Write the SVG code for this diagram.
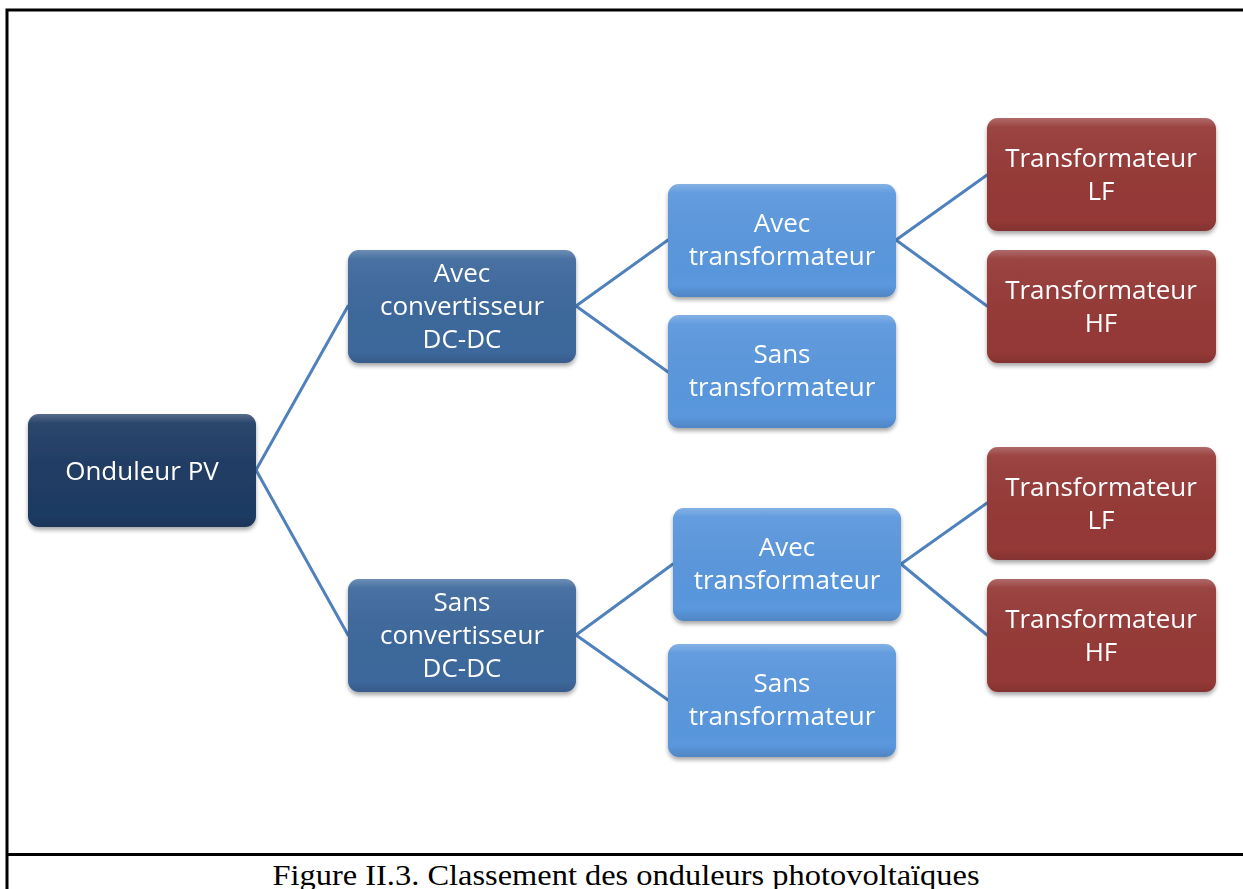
<svg xmlns="http://www.w3.org/2000/svg" width="1243" height="889" viewBox="0 0 1243 889">
<style>
.frame{stroke:#000;stroke-width:3;fill:none}
.conn line{stroke:#4F81BD;stroke-width:3;stroke-linecap:round}
.t{font-family:"Open Sans","Noto Sans",sans-serif;font-size:26px;fill:#fff;text-anchor:middle}
.cap{font-family:"Liberation Serif",serif;font-size:29px;fill:#000;text-anchor:middle}
.n0{fill:#1F3B63}
.n1{fill:#3D689C}
.n2{fill:#5A97DD}
.n3{fill:#953937}
.gl{fill:url(#gloss)}
</style>
<defs>
<linearGradient id="gloss" x1="0" y1="0" x2="0" y2="1">
<stop offset="0" stop-color="#fff" stop-opacity="0.25"/>
<stop offset="0.08" stop-color="#fff" stop-opacity="0.06"/>
<stop offset="0.9" stop-color="#000" stop-opacity="0"/>
<stop offset="1" stop-color="#000" stop-opacity="0.12"/>
</linearGradient>
<filter id="sh" x="-10%" y="-10%" width="120%" height="130%">
<feGaussianBlur in="SourceAlpha" stdDeviation="2"/>
<feOffset dx="0" dy="3" result="b"/>
<feComponentTransfer><feFuncA type="linear" slope="0.35"/></feComponentTransfer>
<feMerge><feMergeNode/><feMergeNode in="SourceGraphic"/></feMerge>
</filter>
</defs>
<rect width="1243" height="889" fill="#fff"/>
<path class="frame" d="M7,889 V10 H1243 M7,854.5 H1243"/>
<g class="conn">
<line x1="256" y1="470" x2="348" y2="306"/>
<line x1="256" y1="470" x2="348" y2="635"/>
<line x1="576" y1="306" x2="668" y2="240"/>
<line x1="576" y1="306" x2="668" y2="372"/>
<line x1="576" y1="635" x2="673" y2="564"/>
<line x1="576" y1="635" x2="668" y2="700"/>
<line x1="896" y1="240" x2="987" y2="175"/>
<line x1="896" y1="240" x2="987" y2="306"/>
<line x1="901" y1="564" x2="987" y2="503"/>
<line x1="901" y1="564" x2="987" y2="635"/>
</g>
<g id="n-onduleur" filter="url(#sh)">
<rect class="n0" x="28" y="414" width="228" height="113" rx="11"/>
<rect class="gl" x="28" y="414" width="228" height="113" rx="11"/>
<text class="t" x="142" y="480">Onduleur PV</text>
</g>
<g id="n-avec-conv" filter="url(#sh)">
<rect class="n1" x="348" y="250" width="228" height="113" rx="11"/>
<rect class="gl" x="348" y="250" width="228" height="113" rx="11"/>
<text class="t" x="462" y="282">Avec</text>
<text class="t" x="462" y="315">convertisseur</text>
<text class="t" x="462" y="348">DC-DC</text>
</g>
<g id="n-sans-conv" filter="url(#sh)">
<rect class="n1" x="348" y="579" width="228" height="113" rx="11"/>
<rect class="gl" x="348" y="579" width="228" height="113" rx="11"/>
<text class="t" x="462" y="611">Sans</text>
<text class="t" x="462" y="644">convertisseur</text>
<text class="t" x="462" y="677">DC-DC</text>
</g>
<g id="n-avec-trans-1" filter="url(#sh)">
<rect class="n2" x="668" y="184" width="228" height="113" rx="11"/>
<rect class="gl" x="668" y="184" width="228" height="113" rx="11"/>
<text class="t" x="782" y="232">Avec</text>
<text class="t" x="782" y="265">transformateur</text>
</g>
<g id="n-sans-trans-1" filter="url(#sh)">
<rect class="n2" x="668" y="315" width="228" height="113" rx="11"/>
<rect class="gl" x="668" y="315" width="228" height="113" rx="11"/>
<text class="t" x="782" y="363">Sans</text>
<text class="t" x="782" y="396">transformateur</text>
</g>
<g id="n-avec-trans-2" filter="url(#sh)">
<rect class="n2" x="673" y="508" width="228" height="113" rx="11"/>
<rect class="gl" x="673" y="508" width="228" height="113" rx="11"/>
<text class="t" x="787" y="556">Avec</text>
<text class="t" x="787" y="589">transformateur</text>
</g>
<g id="n-sans-trans-2" filter="url(#sh)">
<rect class="n2" x="668" y="644" width="228" height="113" rx="11"/>
<rect class="gl" x="668" y="644" width="228" height="113" rx="11"/>
<text class="t" x="782" y="692">Sans</text>
<text class="t" x="782" y="725">transformateur</text>
</g>
<g id="n-lf-1" filter="url(#sh)">
<rect class="n3" x="987" y="118" width="229" height="113" rx="11"/>
<rect class="gl" x="987" y="118" width="229" height="113" rx="11"/>
<text class="t" x="1101" y="167">Transformateur</text>
<text class="t" x="1101" y="200">LF</text>
</g>
<g id="n-hf-1" filter="url(#sh)">
<rect class="n3" x="987" y="250" width="229" height="113" rx="11"/>
<rect class="gl" x="987" y="250" width="229" height="113" rx="11"/>
<text class="t" x="1101" y="299">Transformateur</text>
<text class="t" x="1101" y="332">HF</text>
</g>
<g id="n-lf-2" filter="url(#sh)">
<rect class="n3" x="987" y="447" width="229" height="113" rx="11"/>
<rect class="gl" x="987" y="447" width="229" height="113" rx="11"/>
<text class="t" x="1101" y="496">Transformateur</text>
<text class="t" x="1101" y="529">LF</text>
</g>
<g id="n-hf-2" filter="url(#sh)">
<rect class="n3" x="987" y="579" width="229" height="113" rx="11"/>
<rect class="gl" x="987" y="579" width="229" height="113" rx="11"/>
<text class="t" x="1101" y="628">Transformateur</text>
<text class="t" x="1101" y="661">HF</text>
</g>
<text class="cap" x="626" y="885" textLength="707" lengthAdjust="spacingAndGlyphs">Figure II.3. Classement des onduleurs photovoltaïques</text>
</svg>
